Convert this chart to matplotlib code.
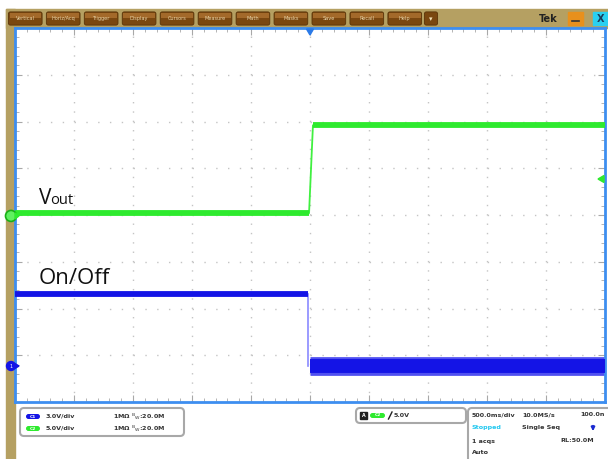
import numpy as np
import matplotlib.pyplot as plt
from matplotlib.patches import Rectangle, FancyBboxPatch, Circle, Polygon

# scope settings
time_per_div = 0.5          # s/div
ch1_volts_per_div = 3.0
ch2_volts_per_div = 5.0
ch1_offset_div = -3.23      # ground marker of CH1 (divisions from centre)
ch2_offset_div = -0.02      # ground marker of CH2
trigger_level_div = 0.77

# Vout on CH2 (green)
vout_t = [-2.5, -0.008, 0.025, 2.5]
vout_v = [0.3, 0.3, 9.7, 9.7]

# On/Off on CH1 (blue)
onoff_t_high = [-2.5, -0.017]
onoff_v_high = [4.62, 4.62]
onoff_t_edge = [-0.017, -0.017]
onoff_v_edge = [4.62, 0.0]
onoff_t_low = [0.0, 2.5]
onoff_v_low = [0.0, 0.0]

menu_labels = ['Vertical', 'Horiz/Acq', 'Trigger', 'Display', 'Cursors', 'Measure',
               'Math', 'Masks', 'Save', 'Recall', 'Help']

GREEN = '#2eea2e'
BLUE = '#1414e6'
BROWN = '#b5a062'
FRAME = '#3d8ef0'

fig = plt.figure(figsize=(6.08, 4.59), dpi=100)
W, H = 608, 459

# background layer in pixel coordinates
bg = fig.add_axes([0, 0, 1, 1], zorder=0)
bg.set_xlim(0, W)
bg.set_ylim(H, 0)
bg.axis('off')
bg.add_patch(Rectangle((6, 9), W - 6, 19, color=BROWN))
bg.add_patch(Rectangle((6, 9), 9, H - 9, color=BROWN))

# menu buttons
for i, lab in enumerate(menu_labels):
    x0 = 8 + i * 37.95
    bg.add_patch(FancyBboxPatch((x0 + 1, 12.5), 32.5, 12, boxstyle='round,pad=0.6,rounding_size=2',
                                fc='#7a4710', ec='#5a3408', lw=0.6))
    bg.add_patch(Rectangle((x0 + 1.5, 13), 31.5, 4.5, color='#a3692a', lw=0))
    bg.text(x0 + 17.2, 18.8, lab, fontsize=3.6, color='#e6d3a8', ha='center', va='center')
bg.add_patch(FancyBboxPatch((425, 12.5), 12, 12, boxstyle='round,pad=0.6,rounding_size=2',
                            fc='#7a4710', ec='#5a3408', lw=0.6))
bg.text(431, 18.8, '\u25be', fontsize=5, color='#f0e0b8', ha='center', va='center')
bg.text(548, 18.5, 'Tek', fontsize=7, fontweight='bold', color='#222222', ha='center', va='center')
bg.add_patch(Rectangle((568, 12), 15, 13, color='#e8901c'))
bg.plot([572, 579], [21, 21], color='#333333', lw=1.2)
bg.add_patch(Rectangle((593, 12), 15, 13, color='#2ad0f0'))
bg.text(600.5, 18.5, 'X', fontsize=7, fontweight='bold', color='#1a3a5a', ha='center', va='center')

# info panels
bg.add_patch(FancyBboxPatch((20, 408), 164, 28, boxstyle='round,pad=0,rounding_size=4',
                            fc='white', ec='#a8a8a8', lw=1.5))
bg.add_patch(FancyBboxPatch((356, 408), 110, 15, boxstyle='round,pad=0,rounding_size=4',
                            fc='white', ec='#a8a8a8', lw=1.5))
bg.add_patch(FancyBboxPatch((468, 408), 150, 60, boxstyle='round,pad=0,rounding_size=4',
                            fc='white', ec='#a8a8a8', lw=1.5))

info_font = dict(fontsize=4.6, fontweight='bold', color='#333333', va='center')
rows = [('C1', BLUE, '3.0V/div', 416.5), ('C2', GREEN, '5.0V/div', 428.5)]
for ch, col, vdiv, yy in rows:
    bg.add_patch(FancyBboxPatch((26, yy - 2.5), 14, 5, boxstyle='round,pad=0,rounding_size=2.5',
                                fc=col, ec='none'))
    bg.text(33, yy, ch, fontsize=3.2, color='white', ha='center', va='center', fontweight='bold')
    bg.text(46, yy, vdiv, **info_font)
    bg.text(113, yy, '1M\u03a9 $^{\\mathrm{B}}$$_{\\mathrm{W}}$:20.0M', **info_font)

bg.add_patch(Rectangle((360, 412), 7, 7, color='#222222'))
bg.text(363.5, 415.5, 'A', fontsize=3.4, color='white', ha='center', va='center', fontweight='bold')
bg.add_patch(FancyBboxPatch((370, 413), 15, 5, boxstyle='round,pad=0,rounding_size=2.5', fc=GREEN, ec='none'))
bg.text(377.5, 415.5, 'C2', fontsize=3.2, color='white', ha='center', va='center', fontweight='bold')
bg.plot([388.5, 392], [419, 412], color='#222222', lw=1)
bg.text(394, 415.5, '5.0V', **info_font)

bg.text(472, 415, '500.0ms/div', **info_font)
bg.text(522, 415, '10.0MS/s', **info_font)
bg.text(605, 415, '100.0n', ha='right', **info_font)
bg.text(472, 428, 'Stopped', fontsize=4.6, fontweight='bold', color='#22c8f0', va='center')
bg.text(522, 428, 'Single Seq', **info_font)
bg.annotate('', xy=(593, 434), xytext=(593, 423),
            arrowprops=dict(arrowstyle='-|>', color='#1a2ad0', lw=1.4, mutation_scale=5))
bg.text(472, 441, '1 acqs', **info_font)
bg.text(560, 441, 'RL:50.0M', **info_font)
bg.text(472, 453, 'Auto', **info_font)

# scope graticule
ax = fig.add_axes([15 / W, 1 - 402 / H, 590 / W, 374 / H], zorder=1)
ax.set_xlim(-5 * time_per_div, 5 * time_per_div)
ax.set_ylim(-4, 4)
ax.set_xticks(np.arange(-5, 6) * time_per_div)
ax.set_xticks(np.arange(-25, 26) * time_per_div / 5, minor=True)
ax.set_yticks(np.arange(-4, 5))
ax.set_yticks(np.arange(-20, 21) / 5, minor=True)
ax.tick_params(which='both', direction='in', top=True, right=True, color='#a8a8a8',
               labelbottom=False, labelleft=False)
ax.tick_params(which='major', length=5, width=0.8)
ax.tick_params(which='minor', length=3, width=0.6)
for sp in ax.spines.values():
    sp.set_color(FRAME)
    sp.set_linewidth(2)
for yv in np.arange(-3, 4):
    ax.axhline(yv, color='#c4c4c4', lw=1, linestyle=(0, (1, 7.5)), zorder=0)
for xv in np.arange(-4, 5) * time_per_div:
    ax.axvline(xv, color='#c4c4c4', lw=1, linestyle=(0, (1, 5.73)), zorder=0)

# traces
vout_div = np.array(vout_v) / ch2_volts_per_div + ch2_offset_div
ax.plot(vout_t, vout_div, color='#40f040', lw=1.3, zorder=2)
ax.plot(vout_t[:2], vout_div[:2], color=GREEN, lw=4.2, solid_capstyle='butt', zorder=3)
ax.plot(vout_t[2:], vout_div[2:], color=GREEN, lw=4.2, solid_capstyle='butt', zorder=3)

hi = np.array(onoff_v_high) / ch1_volts_per_div + ch1_offset_div
edge = np.array(onoff_v_edge) / ch1_volts_per_div + ch1_offset_div
lo = np.array(onoff_v_low) / ch1_volts_per_div + ch1_offset_div
ax.plot(onoff_t_high, hi, color=BLUE, lw=4.2, solid_capstyle='butt', zorder=3)
ax.plot(onoff_t_edge, edge, color='#8a8aff', lw=1.2, zorder=2)
ax.plot(onoff_t_low, lo, color='#5050f0', lw=13.5, solid_capstyle='butt', zorder=2)
ax.plot(onoff_t_low, lo, color=BLUE, lw=10, solid_capstyle='butt', zorder=3)

# foreground markers and labels in pixel coordinates
fg = fig.add_axes([0, 0, 1, 1], zorder=2)
fg.set_xlim(0, W)
fg.set_ylim(H, 0)
fg.axis('off')
fg.patch.set_alpha(0)

def div_to_px(d):
    return 215 - d * 46.75

fg.add_patch(Circle((11, div_to_px(ch2_offset_div)), 5.5, fc='#60f060', ec='#18b018', lw=1.2))
fg.add_patch(Polygon([[15, div_to_px(ch2_offset_div) - 3], [19, div_to_px(ch2_offset_div)],
                      [15, div_to_px(ch2_offset_div) + 3]], color=GREEN))
fg.add_patch(Circle((11, div_to_px(ch1_offset_div)), 4.5, fc=BLUE, ec=BLUE))
fg.text(11, div_to_px(ch1_offset_div), '1', fontsize=3.5, color='white', ha='center', va='center')
fg.add_patch(Polygon([[15, div_to_px(ch1_offset_div) - 2.5], [19, div_to_px(ch1_offset_div)],
                      [15, div_to_px(ch1_offset_div) + 2.5]], color=BLUE))
ty = div_to_px(trigger_level_div)
fg.add_patch(Polygon([[598, ty], [604, ty - 3.5], [604, ty + 3.5]], color=GREEN))
fg.add_patch(Polygon([[306.5, 29], [313.5, 29], [310, 35]], color='#2a7ae8'))

fg.text(39, 204, 'V', fontsize=15, family='Open Sans', color='#111111', va='baseline')
fg.text(50.5, 204, 'out', fontsize=10.5, family='Open Sans', color='#111111', va='baseline')
fg.text(39, 284, 'On/Off', fontsize=16, family='Open Sans', color='#111111', va='baseline')

fig.savefig('out.png', dpi=100)
